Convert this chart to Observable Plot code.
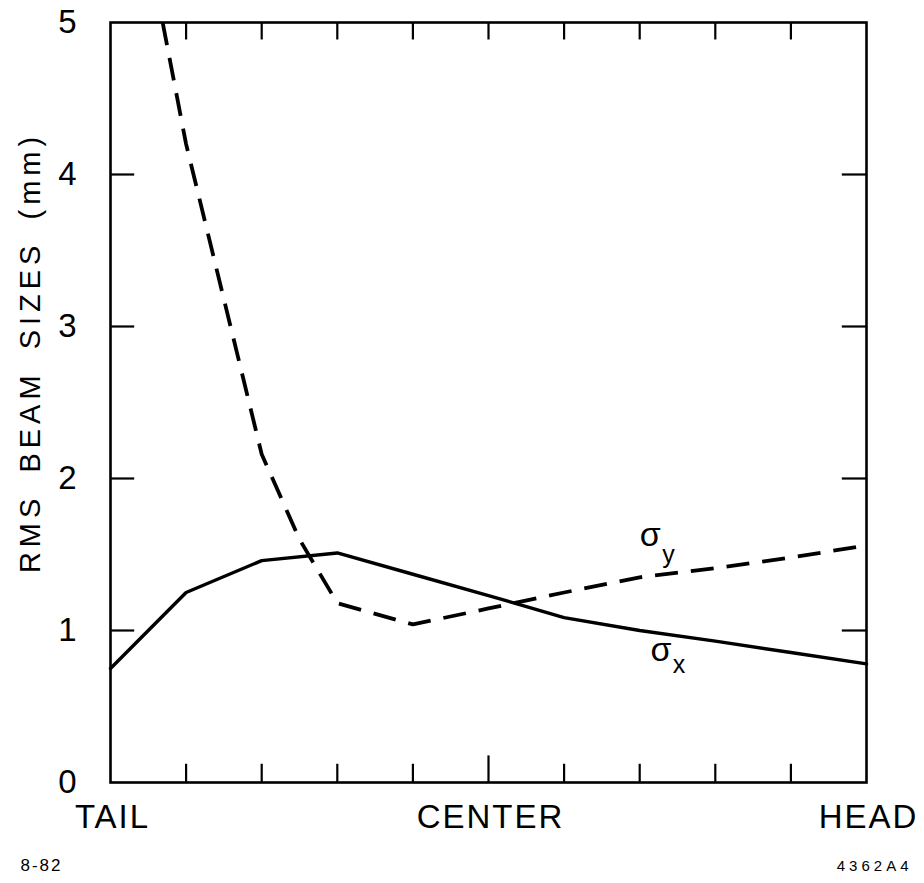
<!DOCTYPE html>
<html>
<head>
<meta charset="utf-8">
<script src="https://cdn.jsdelivr.net/npm/d3@7"></script>
<script src="https://cdn.jsdelivr.net/npm/@observablehq/plot@0.6"></script>
<style>
  html, body { margin: 0; padding: 0; background: #fff; }
</style>
</head>
<body>
<div id="chart"></div>
<script>
// ---- data ----
const positions = [0, 1, 2, 3, 4, 5, 6, 7, 8, 9, 10];
const sigmaX = [0.75, 1.25, 1.46, 1.51, 1.37, 1.23, 1.085, 1.0, 0.93, 0.855, 0.78];
const sigmaYPos = [0.69, 1, 2, 2.5, 3, 4, 5, 6, 7, 8, 9, 10];
const sigmaY = [5.0, 4.2, 2.16, 1.6, 1.18, 1.04, 1.145, 1.25, 1.35, 1.41, 1.48, 1.56];
const yTicks = [0, 1, 2, 3, 4, 5];
const yInnerTicks = [1, 2, 3, 4];
const xInnerTicks = [1, 2, 3, 4, 6, 7, 8, 9];
const xCenterTick = [5];
const xLabelPos = [0, 5, 10];
const xLabels = ["TAIL", "CENTER", "HEAD"];
const yTitle = "RMS BEAM SIZES (mm)";
const footLeft = "8-82";
const footRight = "4362A4";

const xData = positions.map((p, i) => ({x: p, y: sigmaX[i]}));
const yData = sigmaYPos.map((p, i) => ({x: p, y: sigmaY[i]}));

const FONT = "Liberation Sans, Arial, sans-serif";

const chart = Plot.plot({
  width: 924,
  height: 883,
  marginLeft: 110,
  marginRight: 58,
  marginTop: 22,
  marginBottom: 101,
  style: {fontFamily: FONT, background: "#fff", color: "#000"},
  x: {domain: [0, 10], axis: null},
  y: {domain: [0, 5], axis: null},
  marks: [
    // inward ticks
    Plot.ruleY(yInnerTicks, {y: d => d, x1: 0, x2: 0.32, stroke: "#000", strokeWidth: 2.2}),
    Plot.ruleY(yInnerTicks, {y: d => d, x1: 9.68, x2: 10, stroke: "#000", strokeWidth: 2.2}),
    Plot.ruleX(xInnerTicks, {x: d => d, y1: 0, y2: 0.12, stroke: "#000", strokeWidth: 2.2}),
    Plot.ruleX(xCenterTick, {x: d => d, y1: 0, y2: 0.175, stroke: "#000", strokeWidth: 2.2}),
    Plot.ruleX(xInnerTicks.concat(xCenterTick), {x: d => d, y1: 4.885, y2: 5, stroke: "#000", strokeWidth: 2.2}),
    Plot.frame({stroke: "#000", strokeWidth: 2.6}),
    // series
    Plot.line(xData, {x: "x", y: "y", stroke: "#000", strokeWidth: 3.4}),
    Plot.line(yData, {x: "x", y: "y", stroke: "#000", strokeWidth: 3.8, strokeDasharray: "23,13", strokeLinecap: "butt"}),
    // series labels
    Plot.text(["σ"], {x: 7.14, y: 1.63, text: d => d, fontSize: 34, fill: "#000"}),
    Plot.text(["y"], {x: 7.38, y: 1.50, text: d => d, fontSize: 25, fill: "#000"}),
    Plot.text(["σ"], {x: 7.28, y: 0.87, text: d => d, fontSize: 34, fill: "#000"}),
    Plot.text(["x"], {x: 7.52, y: 0.77, text: d => d, fontSize: 25, fill: "#000"}),
    // y tick labels
    Plot.text(yTicks, {y: d => d, text: d => String(d), frameAnchor: "left", dx: -43, textAnchor: "middle", fontSize: 33, fill: "#000"}),
    // x labels
    Plot.text(xLabelPos, {x: d => d, text: (d, i) => xLabels[i], frameAnchor: "bottom", dy: 45, dx: 2, textAnchor: "middle", fontSize: 33, fill: "#000"}),
    // y title
    Plot.text([yTitle], {text: d => d, frameAnchor: "left", dx: -80, dy: -50, rotate: -90, textAnchor: "middle", fontSize: 29, fill: "#000"}),
    // footnotes
    Plot.text([footLeft], {text: d => d, frameAnchor: "bottom-left", dx: -90, dy: 88, textAnchor: "start", fontSize: 17, fill: "#000"}),
    Plot.text([footRight], {text: d => d, frameAnchor: "bottom-right", dx: 46, dy: 88, textAnchor: "end", fontSize: 15, fill: "#000"})
  ]
});
document.getElementById("chart").appendChild(chart);

// letter spacing, as in the hand-lettered original
const spacing = new Map([[yTitle, "5px"], [footLeft, "2px"], [footRight, "4px"]]);
xLabels.forEach(t => spacing.set(t, "2px"));
d3.select(chart).selectAll("text").each(function () {
  const s = spacing.get(this.textContent);
  if (s) {
    this.style.letterSpacing = s;
    if (this.textContent === yTitle) this.style.wordSpacing = "8px";
  }
});
</script>
</body>
</html>
